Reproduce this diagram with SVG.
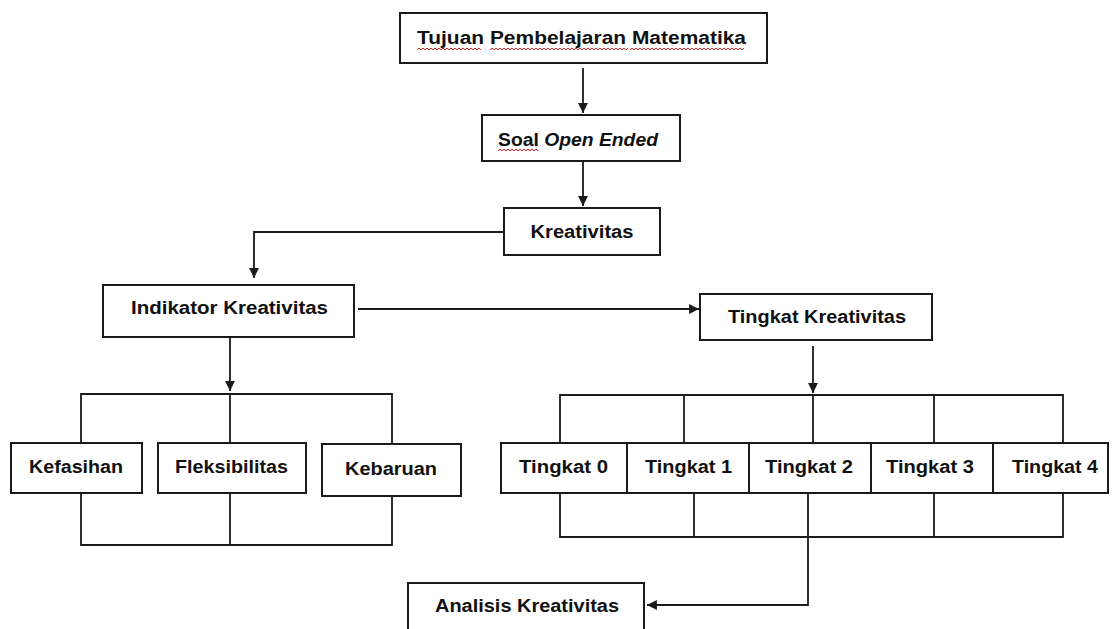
<svg xmlns="http://www.w3.org/2000/svg" width="1115" height="629" viewBox="0 0 1115 629">
<style>
.box{fill:#fff;stroke:#1a1a1a;stroke-width:2}
.ln{fill:none;stroke:#1a1a1a;stroke-width:1.8}
.t{font-family:"Liberation Sans",Arial,sans-serif;font-weight:bold;font-size:18px;fill:#111}
.sq{fill:none;stroke:#e02020;stroke-width:1}
</style>
<defs>
<marker id="ah" viewBox="0 0 10 10" refX="10" refY="5" markerWidth="5.5" markerHeight="5.5" orient="auto" markerUnits="strokeWidth">
<path d="M0,0 L10,5 L0,10 z" fill="#1a1a1a"/>
</marker>
</defs>
<rect width="1115" height="629" fill="#fff"/>
<g id="connectors">
<line class="ln" x1="583" y1="68" x2="583" y2="113" marker-end="url(#ah)"/>
<line class="ln" x1="583" y1="161" x2="583" y2="206" marker-end="url(#ah)"/>
<polyline class="ln" points="504,232 254,232 254,278" marker-end="url(#ah)"/>
<line class="ln" x1="358" y1="309" x2="699" y2="309" marker-end="url(#ah)"/>
<line class="ln" x1="230" y1="337" x2="230" y2="391" marker-end="url(#ah)"/>
<polyline class="ln" points="81,443 81,394 392,394 392,443"/>
<line class="ln" x1="230" y1="394" x2="230" y2="443"/>
<polyline class="ln" points="81,493 81,545 392,545 392,496"/>
<line class="ln" x1="230" y1="493" x2="230" y2="545"/>
<line class="ln" x1="813" y1="346" x2="813" y2="393" marker-end="url(#ah)"/>
<polyline class="ln" points="560,443 560,395 1063,395 1063,443"/>
<line class="ln" x1="684" y1="395" x2="684" y2="443"/>
<line class="ln" x1="813" y1="395" x2="813" y2="443"/>
<line class="ln" x1="934" y1="395" x2="934" y2="443"/>
<polyline class="ln" points="560,493 560,537 1063,537 1063,493"/>
<line class="ln" x1="694" y1="493" x2="694" y2="537"/>
<line class="ln" x1="934" y1="493" x2="934" y2="537"/>
<polyline class="ln" points="808,493 808,605 647,605" marker-end="url(#ah)"/>
</g>
<g id="n-tujuan">
<rect class="box" x="400" y="13" width="367" height="50"/>
<text class="t" x="417" y="44" textLength="329" lengthAdjust="spacingAndGlyphs">Tujuan Pembelajaran Matematika</text>
<path class="sq" d="M417,50 l2,-2 l2,2 l2,-2 l2,2 l2,-2 l2,2 l2,-2 l2,2 l2,-2 l2,2 l2,-2 l2,2 l2,-2 l2,2 l2,-2 l2,2 l2,-2 l2,2 l2,-2 l2,2 l2,-2 l2,2 l2,-2 l2,2 l2,-2 l2,2 l2,-2 l2,2 l2,-2 l2,2 l2,-2 l2,2"/>
<path class="sq" d="M490,50 l2,-2 l2,2 l2,-2 l2,2 l2,-2 l2,2 l2,-2 l2,2 l2,-2 l2,2 l2,-2 l2,2 l2,-2 l2,2 l2,-2 l2,2 l2,-2 l2,2 l2,-2 l2,2 l2,-2 l2,2 l2,-2 l2,2 l2,-2 l2,2 l2,-2 l2,2 l2,-2 l2,2 l2,-2 l2,2 l2,-2 l2,2 l2,-2 l2,2 l2,-2 l2,2 l2,-2 l2,2 l2,-2 l2,2 l2,-2 l2,2 l2,-2 l2,2 l2,-2 l2,2 l2,-2 l2,2 l2,-2 l2,2 l2,-2 l2,2 l2,-2 l2,2 l2,-2 l2,2 l2,-2 l2,2 l2,-2 l2,2 l2,-2 l2,2 l2,-2 l2,2 l2,-2 l2,2 l2,-2"/>
<path class="sq" d="M630,50 l2,-2 l2,2 l2,-2 l2,2 l2,-2 l2,2 l2,-2 l2,2 l2,-2 l2,2 l2,-2 l2,2 l2,-2 l2,2 l2,-2 l2,2 l2,-2 l2,2 l2,-2 l2,2 l2,-2 l2,2 l2,-2 l2,2 l2,-2 l2,2 l2,-2 l2,2 l2,-2 l2,2 l2,-2 l2,2 l2,-2 l2,2 l2,-2 l2,2 l2,-2 l2,2 l2,-2 l2,2 l2,-2 l2,2 l2,-2 l2,2 l2,-2 l2,2 l2,-2 l2,2 l2,-2 l2,2 l2,-2 l2,2 l2,-2 l2,2 l2,-2 l2,2 l2,-2"/>
</g>
<g id="n-soal">
<rect class="box" x="482" y="115" width="198" height="46"/>
<text class="t" x="498" y="146" textLength="160" lengthAdjust="spacingAndGlyphs">Soal <tspan font-style="italic">Open Ended</tspan></text>
<path class="sq" d="M498,151 l2,-2 l2,2 l2,-2 l2,2 l2,-2 l2,2 l2,-2 l2,2 l2,-2 l2,2 l2,-2 l2,2 l2,-2 l2,2 l2,-2 l2,2 l2,-2 l2,2 l2,-2 l2,2"/>
</g>
<g id="n-kreativitas">
<rect class="box" x="504" y="208" width="156" height="47"/>
<text class="t" x="582" y="238" text-anchor="middle" textLength="103" lengthAdjust="spacingAndGlyphs">Kreativitas</text>
</g>
<g id="n-indikator">
<rect class="box" x="103" y="285" width="251" height="52"/>
<text class="t" x="229.5" y="314" text-anchor="middle" textLength="197" lengthAdjust="spacingAndGlyphs">Indikator Kreativitas</text>
</g>
<g id="n-tingkat-kreativitas">
<rect class="box" x="700" y="294" width="232" height="46"/>
<text class="t" x="817" y="323" text-anchor="middle" textLength="178" lengthAdjust="spacingAndGlyphs">Tingkat Kreativitas</text>
</g>
<g id="n-kefasihan">
<rect class="box" x="11" y="443" width="131" height="50"/>
<text class="t" x="76" y="473" text-anchor="middle" textLength="94" lengthAdjust="spacingAndGlyphs">Kefasihan</text>
</g>
<g id="n-fleksibilitas">
<rect class="box" x="158" y="443" width="148" height="50"/>
<text class="t" x="231.5" y="473" text-anchor="middle" textLength="113" lengthAdjust="spacingAndGlyphs">Fleksibilitas</text>
</g>
<g id="n-kebaruan">
<rect class="box" x="322" y="444" width="139" height="52"/>
<text class="t" x="391" y="475" text-anchor="middle" textLength="92" lengthAdjust="spacingAndGlyphs">Kebaruan</text>
</g>
<g id="n-tingkat0">
<rect class="box" x="501" y="443" width="126" height="50"/>
<text class="t" x="563.5" y="473" text-anchor="middle" textLength="89" lengthAdjust="spacingAndGlyphs">Tingkat 0</text>
</g>
<g id="n-tingkat1">
<rect class="box" x="627" y="443" width="122" height="50"/>
<text class="t" x="688.5" y="473" text-anchor="middle" textLength="87" lengthAdjust="spacingAndGlyphs">Tingkat 1</text>
</g>
<g id="n-tingkat2">
<rect class="box" x="749" y="443" width="122" height="50"/>
<text class="t" x="809" y="473" text-anchor="middle" textLength="88" lengthAdjust="spacingAndGlyphs">Tingkat 2</text>
</g>
<g id="n-tingkat3">
<rect class="box" x="871" y="443" width="122" height="50"/>
<text class="t" x="930" y="473" text-anchor="middle" textLength="88" lengthAdjust="spacingAndGlyphs">Tingkat 3</text>
</g>
<g id="n-tingkat4">
<rect class="box" x="993" y="443" width="115" height="50"/>
<text class="t" x="1055" y="473" text-anchor="middle" textLength="86" lengthAdjust="spacingAndGlyphs">Tingkat 4</text>
</g>
<g id="n-analisis">
<rect class="box" x="408" y="583" width="236" height="60"/>
<text class="t" x="527" y="612" text-anchor="middle" textLength="184" lengthAdjust="spacingAndGlyphs">Analisis Kreativitas</text>
</g>
</svg>
